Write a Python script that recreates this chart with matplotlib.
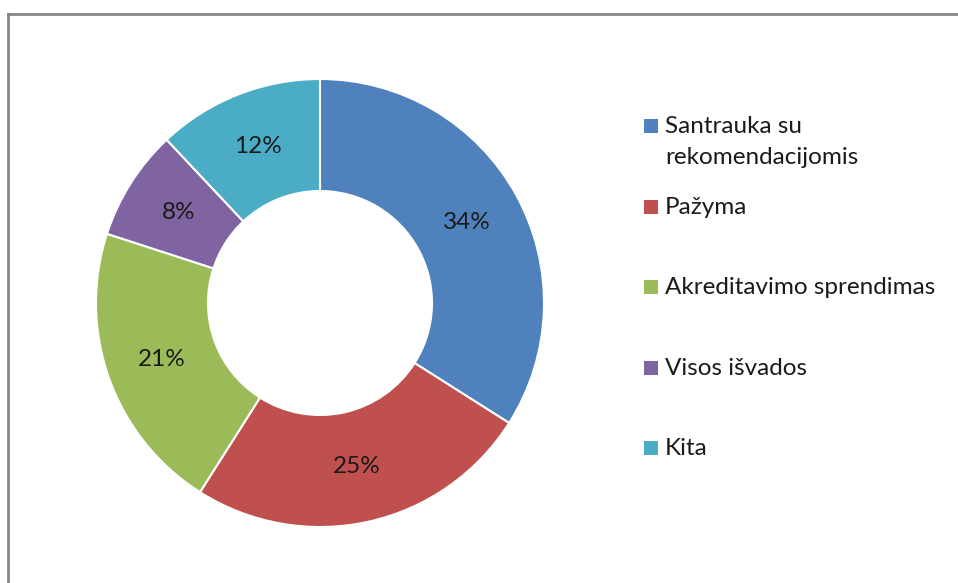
import matplotlib.pyplot as plt
from matplotlib.patches import Rectangle

# data
labels = ["Santrauka su\nrekomendacijomis", "Pažyma", "Akreditavimo sprendimas",
          "Visos išvados", "Kita"]
shares = [34, 25, 21, 8, 12]
colors = ["#4F81BD", "#C0504D", "#9BBB59", "#8064A2", "#4BACC6"]

plt.rcParams['font.family'] = ['Lato', 'DejaVu Sans']

W, H = 958, 583
fig = plt.figure(figsize=(W / 100, H / 100), dpi=100)

# outer frame (grey, cut at right/bottom like the original)
fig.add_artist(plt.Line2D([8 / W, 8 / W], [0, 1 - 14 / H], color="#868686", lw=2))
fig.add_artist(plt.Line2D([8 / W, 1], [1 - 14 / H, 1 - 14 / H], color="#868686", lw=2))

# donut
cx, cy, r = 320, 303, 224
ax = fig.add_axes([(cx - r) / W, (H - cy - r) / H, 2 * r / W, 2 * r / H])
wedges, texts, autotexts = ax.pie(
    shares, colors=colors, startangle=90, counterclock=False,
    autopct="%d%%", pctdistance=0.75,
    wedgeprops=dict(width=0.5, edgecolor="white", linewidth=1.5),
    textprops=dict(fontsize=17.5, color="#1a1a1a"))
ax.set_xlim(-1, 1)
ax.set_ylim(-1, 1)
ax.set_aspect("equal")

# legend drawn by hand so the marker sits on the first text line
for i, (lab, col) in enumerate(zip(labels, colors)):
    y = 126 + i * 80.6
    fig.add_artist(Rectangle((644 / W, 1 - (y + 7) / H), 14 / W, 14 / H,
                             facecolor=col, edgecolor="none"))
    lines = lab.split("\n")
    for j, line in enumerate(lines):
        fig.text(665 / W, 1 - (y + 7 + j * 31) / H, line, fontsize=17.5,
                 va="baseline", ha="left", color="#1a1a1a")

fig.savefig("out.png", dpi=100)
